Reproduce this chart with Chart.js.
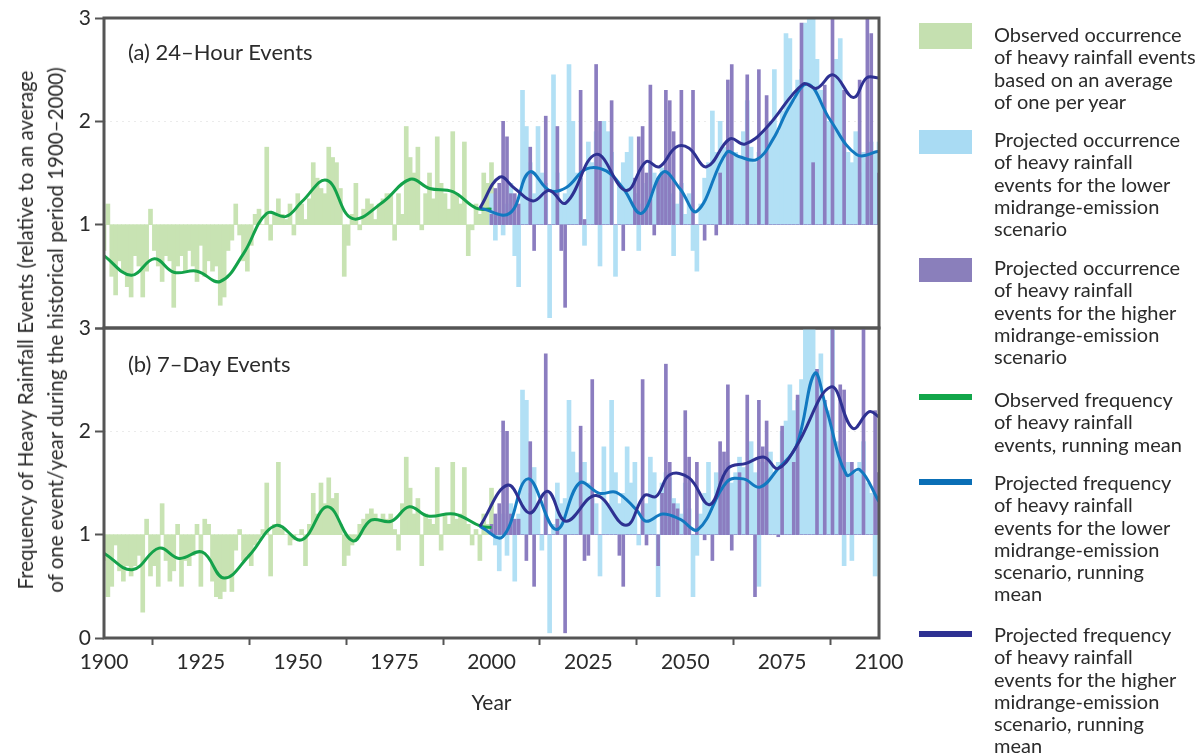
<!DOCTYPE html>
<html>
<head>
<meta charset="utf-8">
<script src="https://cdn.jsdelivr.net/npm/chart.js@4.4.1/dist/chart.umd.min.js"></script>
<style>
  body { margin: 0; background: #fff; width: 1204px; height: 755px; position: relative; overflow: hidden;
         font-family: Lato, "Open Sans", sans-serif; color: #2b2b2b; }
  canvas { position: absolute; left: 0; }
  #top { top: 0; }
  #bottom { top: 300px; }
  .panel { position: absolute; left: 128px; font-size: 22px; line-height: 26px; }
  #ytitle { position: absolute; left: 40px; top: 330px; transform: translate(-50%, -50%) rotate(-90deg);
            white-space: nowrap; text-align: center; font-size: 20.5px; line-height: 30px; }
  .leg { position: absolute; left: 994px; font-size: 20px; line-height: 22.3px; white-space: nowrap; }
  .sw { position: absolute; left: 919px; width: 53px; }
</style>
</head>
<body>
<canvas id="top" width="930" height="345"></canvas>
<canvas id="bottom" width="930" height="440"></canvas>
<div class="panel" style="top:39px">(a) 24–Hour Events</div>
<div class="panel" style="top:351px">(b) 7–Day Events</div>
<div id="ytitle">Frequency of Heavy Rainfall Events (relative to an average<br>of one event/year during the historical period 1900–2000)</div>

<div class="sw" style="top:23px;height:26px;background:#c5e0b0"></div>
<div class="leg" style="top:23px">Observed occurrence<br>of heavy rainfall events<br>based on an average<br>of one per year</div>
<div class="sw" style="top:130px;height:24px;background:#a9dbf3"></div>
<div class="leg" style="top:128px">Projected occurrence<br>of heavy rainfall<br>events for the lower<br>midrange-emission<br>scenario</div>
<div class="sw" style="top:258px;height:24px;background:#8a7fbb"></div>
<div class="leg" style="top:256px">Projected occurrence<br>of heavy rainfall<br>events for the higher<br>midrange-emission<br>scenario</div>
<div class="sw" style="top:394px;height:6px;background:#12a64a"></div>
<div class="leg" style="top:388px">Observed frequency<br>of heavy rainfall<br>events, running mean</div>
<div class="sw" style="top:479px;height:6px;background:#0a6fb6"></div>
<div class="leg" style="top:471px">Projected frequency<br>of heavy rainfall<br>events for the lower<br>midrange-emission<br>scenario, running<br>mean</div>
<div class="sw" style="top:631px;height:6px;background:#2e3192"></div>
<div class="leg" style="top:623px">Projected frequency<br>of heavy rainfall<br>events for the higher<br>midrange-emission<br>scenario, running<br>mean</div>

<script>
// annual values, observed 1900-2000, projected 2000-2100 (bars run from 1 to the value)
const obsStart = 1900;
const projStart = 2000;

const obsTop = [
  0.75, 1.2, 0.5, 0.32, 0.65, 0.55, 0.4, 0.3, 0.7, 0.6,
  0.3, 0.55, 1.15, 0.75, 0.6, 0.45, 0.7, 0.65, 0.2, 0.6,
  0.7, 0.55, 0.75, 0.6, 0.45, 0.8, 0.5, 0.65, 0.55, 0.6,
  0.22, 0.3, 0.75, 0.85, 1.2, 0.9, 0.65, 0.55, 0.8, 1.1,
  1.15, 1.0, 1.75, 0.85, 1.1, 1.25, 1.1, 1.05, 1.2, 0.9,
  1.3, 1.2, 1.05, 1.25, 1.6, 1.45, 1.35, 1.3, 1.75, 1.65,
  1.6, 1.35, 0.5, 0.8, 1.1, 1.4, 0.95, 1.15, 1.25, 1.2,
  1.05, 1.2, 1.25, 1.3, 1.3, 0.85, 1.3, 1.1, 1.95, 1.65,
  1.5, 1.75, 0.95, 1.3, 1.5, 1.25, 1.85, 1.4, 1.3, 1.15,
  1.9, 1.3, 1.2, 1.8, 0.7, 0.95, 1.2, 1.1, 1.5, 1.4,
  1.6
];
const lowTop = [
  1.3, 0.85, 1.1, 0.9, 1.2, 1.4, 0.7, 0.4, 2.3, 1.95,
  1.6, 1.3, 1.95, 1.5, 1.4, 0.1, 2.45, 1.5, 1.2, 1.3,
  2.55, 2.0, 1.5, 1.45, 0.8, 1.8, 1.6, 1.9, 0.6, 2.0,
  1.9, 1.7, 0.5, 1.4, 1.6, 1.7, 1.85, 1.3, 0.75, 1.2,
  1.4, 1.6, 1.5, 1.35, 1.55, 1.5, 1.3, 0.7, 1.2, 1.4,
  1.1, 1.3, 0.75, 0.55, 1.2, 1.45, 1.6, 2.1, 1.7, 2.0,
  1.75, 1.6, 1.8, 1.7, 1.65, 1.9, 2.2, 1.75, 1.6, 1.7,
  1.9, 1.8, 2.0, 2.5, 1.9, 2.1, 2.85, 2.8, 2.2, 2.4,
  2.5, 2.95, 3.0, 3.0, 2.6, 2.3, 2.1, 2.0, 1.9, 2.6,
  2.8, 1.8, 1.7, 1.6, 1.9, 1.5, 1.7, 1.6, 1.8, 1.7,
  1.8
];
const highTop = [
  1.1, 1.35, 1.4, 2.0, 1.85, 1.3, 1.3, 1.2, 1.0, 1.0,
  1.75, 0.75, 1.0, 1.0, 2.05, 1.0, 1.0, 1.95, 0.75, 0.2,
  1.0, 1.0, 1.0, 2.3, 1.05, 1.0, 1.0, 2.55, 2.0, 1.0,
  1.0, 2.2, 1.0, 1.0, 0.75, 1.0, 1.0, 1.45, 1.85, 1.95,
  1.5, 2.35, 0.9, 1.45, 1.5, 2.3, 2.2, 1.9, 1.0, 2.3,
  1.0, 1.0, 2.3, 1.0, 1.0, 0.85, 1.0, 1.0, 0.9, 1.5,
  1.0, 2.4, 2.55, 1.0, 1.0, 1.0, 2.45, 1.0, 1.0, 2.5,
  1.0, 2.25, 1.0, 1.0, 1.0, 1.0, 1.0, 1.0, 1.0, 1.0,
  2.95, 1.0, 1.0, 1.6, 1.0, 1.0, 2.35, 1.0, 3.0, 1.0,
  1.0, 2.3, 1.0, 1.0, 1.0, 2.4, 1.0, 3.0, 2.85, 1.0,
  1.5
];

const obsBot = [
  0.75, 0.4, 0.5, 0.9, 0.65, 0.55, 0.7, 0.6, 0.7, 0.8,
  0.25, 1.15, 0.6, 0.7, 0.5, 1.3, 0.75, 0.55, 0.65, 1.1,
  0.5, 0.75, 0.7, 0.8, 1.1, 0.5, 1.15, 1.1, 0.55, 0.4,
  0.38, 0.45, 0.6, 0.45, 0.85, 1.05, 0.75, 0.8, 0.7, 0.9,
  0.95, 1.05, 1.5, 0.6, 1.1, 1.7, 1.05, 1.0, 0.9, 0.95,
  1.0, 1.05, 0.7, 1.1, 1.4, 1.2, 1.5, 1.3, 1.55, 1.35,
  1.4, 1.1, 0.7, 0.8, 0.9, 0.95, 1.1, 1.15, 1.2, 1.25,
  1.2, 1.15, 1.2, 1.15, 1.2, 1.05, 0.85, 1.3, 1.75, 1.45,
  1.2, 1.35, 0.7, 1.2, 1.15, 1.1, 1.65, 0.85, 1.2, 1.1,
  1.7, 1.15, 1.2, 1.65, 1.1, 0.9, 1.05, 0.75, 1.2, 1.1,
  1.45
];
const lowBot = [
  1.05, 0.9, 0.65, 1.2, 0.8, 1.3, 0.55, 1.2, 2.4, 2.3,
  1.4, 1.65, 1.3, 0.85, 1.4, 0.05, 1.1, 1.5, 1.3, 1.35,
  2.3, 1.8, 1.6, 1.4, 1.7, 1.5, 1.35, 1.3, 0.6, 1.85,
  1.3, 2.3, 1.6, 1.3, 1.4, 1.85, 1.5, 1.7, 0.9, 1.2,
  1.3, 1.75, 1.6, 0.4, 1.5, 1.6, 1.55, 1.35, 1.3, 1.2,
  1.5, 1.25, 0.4, 0.8, 1.2, 1.4, 1.7, 1.3, 1.6, 1.5,
  1.55, 1.7, 1.5, 1.6, 1.75, 1.65, 1.5, 1.9, 1.6, 0.5,
  1.7, 1.55, 1.8, 1.6, 1.7, 2.0, 2.1, 2.45, 2.2, 2.3,
  2.5, 3.0, 3.0, 3.0, 2.6, 2.75, 2.3, 2.2, 3.0, 1.9,
  1.8, 0.7, 1.7, 0.75, 1.6, 1.7, 1.9, 1.5, 1.4, 0.6,
  1.3
];
const highBot = [
  1.1, 1.2, 1.3, 2.1, 2.0, 1.2, 1.15, 1.15, 1.0, 0.75,
  1.9, 0.5, 1.0, 1.0, 2.75, 1.0, 1.0, 1.15, 1.0, 0.05,
  1.0, 1.0, 1.0, 2.05, 0.75, 0.8, 2.5, 1.0, 1.0, 1.0,
  1.0, 1.0, 1.0, 0.8, 0.5, 1.0, 1.0, 1.0, 1.0, 2.5,
  0.9, 1.0, 1.0, 0.7, 1.4, 2.65, 1.7, 1.3, 1.25, 1.0,
  2.2, 1.75, 1.0, 1.7, 1.0, 0.95, 1.0, 0.75, 1.0, 1.9,
  1.8, 2.45, 0.85, 1.0, 1.6, 1.0, 2.35, 1.0, 0.4, 2.3,
  1.85, 2.1, 1.0, 1.0, 0.98, 2.05, 1.0, 1.0, 1.7, 2.35,
  1.0, 1.0, 1.0, 1.0, 2.6, 1.0, 2.3, 1.0, 3.0, 1.0,
  2.45, 2.4, 1.0, 1.7, 1.0, 1.0, 3.0, 1.0, 1.0, 2.2,
  1.6
];

// running means, read at their turning points
const obsMeanYearsTop = [1900, 1907, 1913, 1918, 1924, 1930, 1936, 1942, 1947, 1951, 1957.5, 1964, 1972, 1979, 1984, 1990, 1996, 2000];
const obsMeanTop = [0.70, 0.51, 0.67, 0.54, 0.55, 0.45, 0.72, 1.11, 1.08, 1.22, 1.43, 1.06, 1.22, 1.44, 1.35, 1.32, 1.16, 1.15];
const lowMeanYearsTop = [1997, 2004.7, 2009.8, 2015, 2019.3, 2024.5, 2029.6, 2034, 2038.7, 2044.3, 2048.6, 2053, 2060.7, 2063.8, 2068.4, 2072.7, 2077, 2081.7, 2087.3, 2094.2, 2100];
const lowMeanTop = [1.16, 1.11, 1.51, 1.33, 1.36, 1.54, 1.52, 1.35, 1.11, 1.51, 1.35, 1.13, 1.70, 1.66, 1.63, 1.83, 2.15, 2.36, 2.02, 1.68, 1.71];
const highMeanYearsTop = [1997, 2002.1, 2006, 2010.7, 2014.9, 2019.2, 2027, 2034.7, 2039.9, 2043.3, 2047.6, 2051, 2055.5, 2061.5, 2065.4, 2071, 2080.4, 2083.9, 2088.2, 2093.4, 2096.8, 2100];
const highMeanTop = [1.16, 1.46, 1.35, 1.23, 1.33, 1.21, 1.68, 1.33, 1.61, 1.56, 1.75, 1.74, 1.56, 1.83, 1.78, 1.94, 2.36, 2.32, 2.45, 2.23, 2.42, 2.42];

const obsMeanYearsBot = [1900, 1907.3, 1914.2, 1919.4, 1925.4, 1931, 1937.5, 1944.4, 1951, 1957.7, 1964.2, 1968.9, 1974.1, 1978.8, 1983.6, 1990.4, 1997.3, 2000];
const obsMeanBot = [0.82, 0.66, 0.87, 0.77, 0.83, 0.58, 0.80, 1.09, 0.95, 1.27, 0.94, 1.14, 1.13, 1.27, 1.18, 1.20, 1.08, 1.07];
const lowMeanYearsBot = [1997, 2002.9, 2009.4, 2016.7, 2022.7, 2027.9, 2032.2, 2037.4, 2039.9, 2044.2, 2048.6, 2053.3, 2060.7, 2065, 2069.3, 2074, 2078.7, 2083.4, 2086.4, 2091.6, 2095, 2100];
const lowMeanBot = [1.08, 0.98, 1.54, 1.05, 1.50, 1.40, 1.41, 1.24, 1.13, 1.20, 1.15, 1.05, 1.51, 1.54, 1.46, 1.64, 1.86, 2.56, 2.22, 1.58, 1.63, 1.32];
const highMeanYearsBot = [1997, 2004.2, 2009.8, 2014.5, 2019.2, 2027, 2034.7, 2039.5, 2042.5, 2046, 2051, 2056.3, 2061, 2065.7, 2070.4, 2073.9, 2078.6, 2087.6, 2093.2, 2097.5, 2100];
const highMeanBot = [1.08, 1.48, 1.21, 1.42, 1.13, 1.38, 1.09, 1.38, 1.37, 1.58, 1.55, 1.29, 1.64, 1.69, 1.75, 1.64, 1.85, 2.43, 2.03, 2.19, 2.14];

const yTicks = [0, 1, 2, 3];
const xTickStep = 25;

Chart.defaults.font.family = 'Lato, "Open Sans", sans-serif';
Chart.defaults.font.size = 21;
Chart.defaults.color = "#2b2b2b";

function bars(start, vals) {
    return vals.map((v, i) => ({ x: start + i, y: [1, v] }));
}
function points(years, vals) {
    return years.map((x, i) => ({ x: x, y: vals[i] }));
}

// dark frame around the plot area
const framePlugin = {
    id: "frame",
    afterDraw(chart) {
        const { ctx, chartArea: a } = chart;
        ctx.save();
        ctx.strokeStyle = "#555";
        ctx.lineWidth = 3;
        ctx.strokeRect(a.left, a.top, a.right - a.left, a.bottom - a.top);
        ctx.restore();
    },
};

function makeChart(id, obs, low, high, means, isBottom) {
    const ctx = document.getElementById(id).getContext("2d");
    const lineStyle = { type: "line", pointRadius: 0, borderWidth: 3, tension: 0.4, fill: false, order: 0 };
    return new Chart(ctx, {
        type: "bar",
        data: {
            datasets: [
                { ...lineStyle, data: points(means[4], means[5]), borderColor: "#2e3192" },
                { ...lineStyle, data: points(means[2], means[3]), borderColor: "#1279c0" },
                { ...lineStyle, data: points(means[0], means[1]), borderColor: "#14a24a" },
                { data: bars(projStart, high), backgroundColor: "#8b7dc0", barThickness: 3, grouped: false, order: 1 },
                { data: bars(projStart, low), backgroundColor: "#b2e0f5", barThickness: 4, grouped: false, order: 2 },
                { data: bars(obsStart, obs), backgroundColor: "#c8e3b3", barThickness: 4, grouped: false, order: 3 },
            ],
        },
        options: {
            responsive: false,
            animation: false,
            layout: { padding: isBottom ? { left: 59, right: 51, top: 28, bottom: 12 } : { left: 59, right: 51, top: 18, bottom: 17 } },
            plugins: { legend: { display: false }, tooltip: { enabled: false } },
            scales: {
                x: {
                    type: "linear",
                    min: 1900,
                    max: 2100,
                    offset: false,
                    display: isBottom,
                    afterFit: (scale) => { if (isBottom) scale.height = 90; },
                    border: { display: false },
                    grid: { drawOnChartArea: false, tickLength: 7, tickColor: "#555", tickWidth: 2 },
                    ticks: { stepSize: xTickStep, padding: 5, callback: (v) => String(v), maxRotation: 0 },
                    title: { display: true, text: "Year", font: { size: 21 }, padding: { top: 0, bottom: 12 } },
                },
                y: {
                    min: yTicks[0],
                    max: yTicks[yTicks.length - 1],
                    afterFit: (scale) => { scale.width = 45; },
                    afterBuildTicks: (scale) => { scale.ticks = yTicks.map((v) => ({ value: v })); },
                    border: { display: false, dash: [2, 4] },
                    grid: {
                        color: (c) => (c.tick && c.tick.value === 2 ? "rgba(0,0,0,0.08)" : "rgba(0,0,0,0)"),
                        tickColor: "#555",
                        tickLength: 9,
                        tickWidth: 2,
                    },
                    ticks: { padding: 4, callback: (v) => (!isBottom && v === 0 ? "" : String(v)) },
                },
            },
        },
        plugins: [framePlugin],
    });
}

makeChart("top", obsTop, lowTop, highTop,
    [obsMeanYearsTop, obsMeanTop, lowMeanYearsTop, lowMeanTop, highMeanYearsTop, highMeanTop], false);
makeChart("bottom", obsBot, lowBot, highBot,
    [obsMeanYearsBot, obsMeanBot, lowMeanYearsBot, lowMeanBot, highMeanYearsBot, highMeanBot], true);
</script>
</body>
</html>
